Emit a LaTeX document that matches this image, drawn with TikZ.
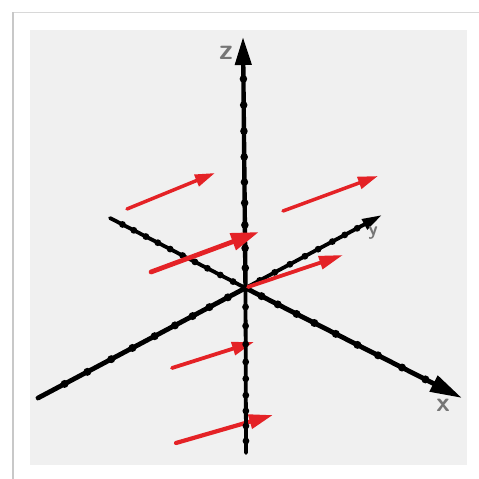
\documentclass[tikz,border=0pt]{standalone}
\usetikzlibrary{arrows.meta,calc}
\definecolor{panel}{RGB}{240,240,240}
\definecolor{vec}{RGB}{228,34,38}
\definecolor{lbl}{RGB}{118,118,118}
\definecolor{frame}{RGB}{200,200,200}
\begin{document}
\begin{tikzpicture}[x=1pt,y=-1pt,
  axis/.style={black,line cap=round},
  bead/.style={fill=black},
  vecarrow/.style={vec,line cap=round},
  axlabel/.style={lbl,inner sep=0pt,font=\sffamily\bfseries}]
\useasboundingbox (0,0) rectangle (479,479);
\fill[white] (0,0) rectangle (479,479);
\draw[line width=0.8pt,frame!70] (13,12) -- (479,12);
\draw[line width=2pt,frame] (13,12) -- (13,479);
\fill[panel] (30,30) rectangle (467,465);

% coordinates
\coordinate (O) at (245.5,288);
\coordinate (zp) at (243,37);
\coordinate (zn) at (246,453);
\coordinate (xp) at (462,398);
\coordinate (xn) at (110,218);
\coordinate (yp) at (382,215);
\coordinate (yn) at (38,398);

\coordinate (a1s) at (127,209); \coordinate (a1e) at (215,173);
\coordinate (a2s) at (283,211); \coordinate (a2e) at (378,176);
\coordinate (a3s) at (151,272); \coordinate (a3e) at (259,232);
\coordinate (a4s) at (248,287); \coordinate (a4e) at (343,255);
\coordinate (a5s) at (172,368); \coordinate (a5e) at (254,342);
\coordinate (a6s) at (176,443); \coordinate (a6e) at (273,415);

% vectors behind the z axis
\draw[vecarrow,line width=3.8pt,-{Triangle[length=22pt,width=13pt]}] (a5s) -- (a5e);
\draw[vecarrow,line width=4.2pt,-{Triangle[length=24pt,width=14pt]}] (a6s) -- (a6e);

% axes
\draw[axis,line width=3.8pt] (O) -- (xn);
\draw[axis,line width=3.8pt,-{Triangle[length=20pt,width=11pt]}] (O) -- (yp);
\draw[axis,line width=4.8pt] (O) -- (yn);
\draw[axis,line width=4.8pt,-{Triangle[length=32pt,width=17pt]}] (O) -- (xp);
\draw[axis,line width=3.8pt] (O) -- (zn);
\draw[axis,line width=4.4pt,-{Triangle[length=28pt,width=16pt]}] (O) -- (zp);

% beads
\foreach \f in {.080,.159,.251,.339,.422,.522,.625,.729,.833}
  \fill[bead] ($(O)!\f!(zp)$) circle (3.8);
\foreach \f in {.115,.23,.34,.448,.55,.65,.745,.836,.927}
  \fill[bead] ($(O)!\f!(zn)$) circle (3.4);
\foreach \f in {.074,.149,.236,.318,.417,.517,.612,.723,.831}
  \fill[bead] ($(O)!\f!(xp)$) circle (4);
\foreach \f in {.092,.186,.281,.373,.464,.556,.647,.735,.824,.908}
  \fill[bead] ($(O)!\f!(xn)$) circle (3.4);
\foreach \f in {.104,.214,.325,.435,.532,.636,.727,.818,.899}
  \fill[bead] ($(O)!\f!(yp)$) circle (3.4);
\foreach \f in {.085,.174,.255,.34,.438,.545,.647,.762,.872}
  \fill[bead] ($(O)!\f!(yn)$) circle (4);

% vectors in front
\draw[vecarrow,line width=3.5pt,-{Triangle[length=20pt,width=12pt]}] (a1s) -- (a1e);
\draw[vecarrow,line width=3.5pt,-{Triangle[length=20pt,width=12pt]}] (a2s) -- (a2e);
\draw[vecarrow,line width=4.8pt,-{Triangle[length=28pt,width=17pt]}] (a3s) -- (a3e);
\draw[vecarrow,line width=3.8pt,-{Triangle[length=24pt,width=13pt]}] (a4s) -- (a4e);

% labels
\node[axlabel,font=\sffamily\bfseries\fontsize{29}{29}\selectfont] (zl) at (226,53) {z};
\node[axlabel,font=\sffamily\bfseries\fontsize{27}{27}\selectfont] (xl) at (443,405) {x};
\node[axlabel,font=\sffamily\bfseries\fontsize{19}{19}\selectfont] (yl) at (373,233) {y};
\end{tikzpicture}
\end{document}
